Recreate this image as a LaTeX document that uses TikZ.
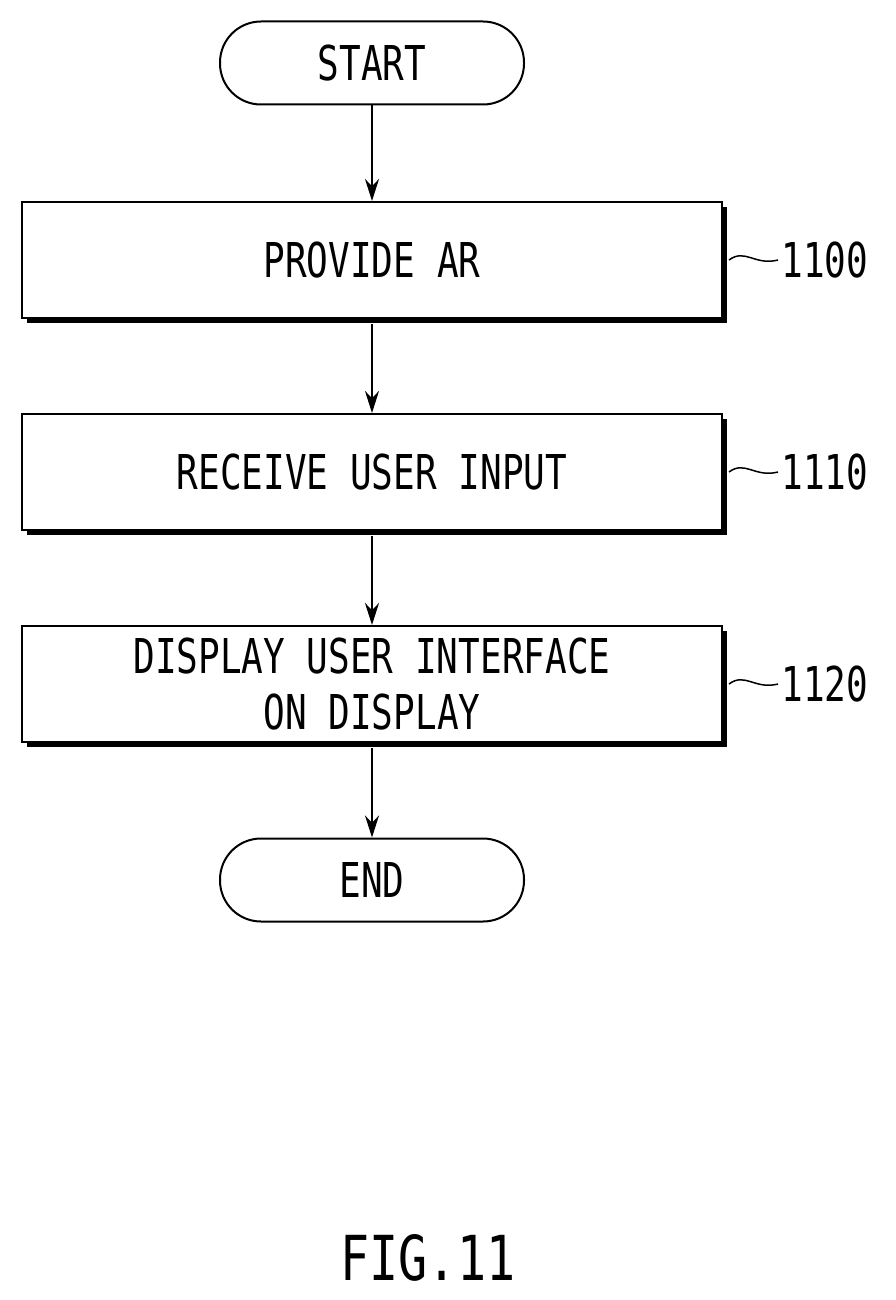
\documentclass[tikz,border=0pt]{standalone}
\usepackage{fontspec}
\newfontfamily\dmono[FakeStretch=0.75]{DejaVu Sans Mono}
\newfontfamily\dmonob[FakeStretch=0.78]{DejaVu Sans Mono}
\usetikzlibrary{arrows.meta}
\begin{document}
\begin{tikzpicture}[x=1pt,y=-1pt,
  txt/.style={font=\dmono\fontsize{48}{56}\selectfont,align=center},
  term/.style={draw,line width=2pt,rounded corners=41pt,minimum width=304pt,minimum height=83pt,txt,fill=white},
  box/.style={draw,line width=2pt,minimum width=700pt,minimum height=116pt,txt,fill=white},
  arr/.style={line width=2pt,-{Stealth[length=22pt,width=14pt]}},
  lbl/.style={font=\dmono\fontsize{48}{56}\selectfont,anchor=west}]
\useasboundingbox (0,0) rectangle (896,1300);
\node[term] (start) at (372,63) {START};
\foreach \n/\y in {b1/260,b2/472,b3/684}{
  \fill (27,\y-53) rectangle (727,\y+63);
}
\node[box] (b1) at (372,260) {PROVIDE AR};
\node[box] (b2) at (372,472) {RECEIVE USER INPUT};
\node[box] (b3) at (372,684) {DISPLAY USER INTERFACE\\ON DISPLAY};
\node[term] (end) at (372,880) {END};
\draw[arr] (start) -- (b1);
\draw[arr] (b1.south) ++(0,5) coordinate (a1) -- (b2);
\draw[arr] (b2.south) ++(0,5) coordinate (a2) -- (b3);
\draw[arr] (b3.south) ++(0,5) coordinate (a3) -- (end);
\foreach \n/\y/\t in {b1/260/1100,b2/472/1110,b3/684/1120}{
  \node[lbl] (l\t) at (778,\y) {\t};
  \draw[line width=1.5pt] (729,\y) .. controls (745,\y-12) and (755,\y+6) .. (l\t.west);
}
\node[font=\dmonob\fontsize{62}{70}\selectfont] (fig) at (428,1258) {FIG.11};
\end{tikzpicture}
\end{document}
